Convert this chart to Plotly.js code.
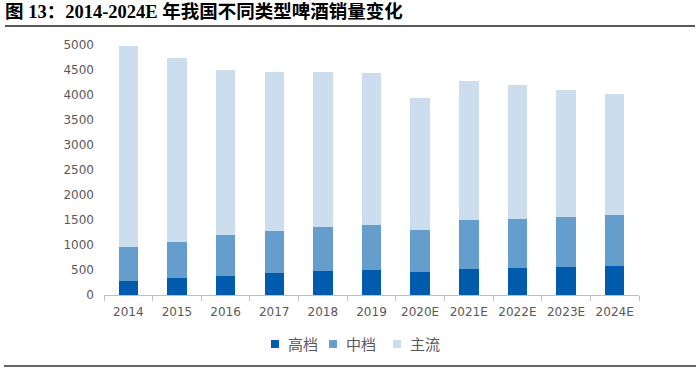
<!DOCTYPE html>
<html>
<head>
<meta charset="utf-8">
<script src="https://cdn.plot.ly/plotly-3.0.1.min.js"></script>
<style>
html,body{margin:0;padding:0;background:#fff;}
#chart{width:700px;height:371px;}
</style>
</head>
<body>
<div id="chart"></div>
<script>
const years = ['2014','2015','2016','2017','2018','2019','2020E','2021E','2022E','2023E','2024E'];
const seriesNames = ['高档','中档','主流'];
const highEnd = [280, 340, 380, 440, 490, 500, 470, 530, 550, 560, 575];
const midRange = [690, 730, 820, 850, 870, 905, 830, 965, 980, 1005, 1025];
const mainstream = [4010, 3665, 3300, 3180, 3110, 3030, 2650, 2795, 2670, 2545, 2415];
const yTicks = [0, 500, 1000, 1500, 2000, 2500, 3000, 3500, 4000, 4500, 5000];
const colors = ['#005BAC', '#659DCD', '#CCDDEE'];

const seriesValues = [highEnd, midRange, mainstream];
const traces = seriesValues.map((vals, i) => ({
  type: 'bar',
  name: seriesNames[i],
  x: years,
  y: vals,
  marker: {color: colors[i]},
  showlegend: false,
  hoverinfo: 'x+y+name'
}));

const L = 104, R = 639, T = 45, B = 295;
const px2x = p => (p - L) / (R - L);
const px2y = p => (B - p) / (B - T);

// legend drawn as shapes + annotations
const legendMarkerX = [275, 333, 397];
const legendY = 344;
const ms = 4;
const legendShapes = seriesNames.map((n, i) => ({
  type: 'rect', xref: 'paper', yref: 'paper',
  x0: px2x(legendMarkerX[i] - ms), x1: px2x(legendMarkerX[i] + ms),
  y0: px2y(legendY + ms), y1: px2y(legendY - ms),
  fillcolor: colors[i], line: {width: 0}
}));
const legendAnn = seriesNames.map((n, i) => ({
  text: n, xref: 'paper', yref: 'paper',
  x: px2x(legendMarkerX[i] + 11), y: px2y(legendY - 1),
  xanchor: 'left', yanchor: 'middle', showarrow: false,
  font: {family: '"Noto Sans CJK SC", sans-serif', size: 15, color: '#595959'}
}));

const layout = {
  width: 700,
  height: 371,
  margin: {l: L, r: 700 - R, t: T, b: 371 - B},
  paper_bgcolor: '#fff',
  plot_bgcolor: '#fff',
  barmode: 'stack',
  bargap: 0.6,
  showlegend: false,
  title: {
    text: '<b>图 13：2014-2024E 年我国不同类型啤酒销量变化</b>',
    font: {family: '"Liberation Serif", "Noto Sans CJK SC", serif', size: 18.5, color: '#000'},
    x: 5 / 700, xref: 'container', xanchor: 'left',
    y: 1 - 12 / 371, yref: 'container', yanchor: 'middle'
  },
  xaxis: {
    type: 'category',
    showgrid: false,
    showline: true,
    linecolor: '#BFBFBF',
    linewidth: 1,
    ticks: 'outside',
    tickson: 'boundaries',
    ticklen: 5,
    tickcolor: '#BFBFBF',
    ticklabelstandoff: 6,
    tickfont: {family: '"DejaVu Sans", sans-serif', size: 12, color: '#595959'},
    zeroline: false,
    fixedrange: true
  },
  yaxis: {
    range: [0, 5000],
    tickvals: yTicks,
    ticktext: yTicks.map(String),
    showgrid: false,
    showline: false,
    zeroline: false,
    ticks: '',
    ticklabelstandoff: 9,
    tickfont: {family: '"DejaVu Sans", sans-serif', size: 12, color: '#595959'},
    fixedrange: true
  },
  annotations: legendAnn,
  shapes: [
    {type: 'line', xref: 'paper', yref: 'paper', x0: px2x(5), x1: px2x(695), y0: px2y(26), y1: px2y(26),
     line: {color: '#222', width: 1.5}},
    {type: 'line', xref: 'paper', yref: 'paper', x0: px2x(4), x1: px2x(696), y0: px2y(366), y1: px2y(366),
     line: {color: '#333', width: 1.5}}
  ].concat(legendShapes)
};

Plotly.newPlot('chart', traces, layout, {displayModeBar: false, staticPlot: true});
</script>
</body>
</html>
